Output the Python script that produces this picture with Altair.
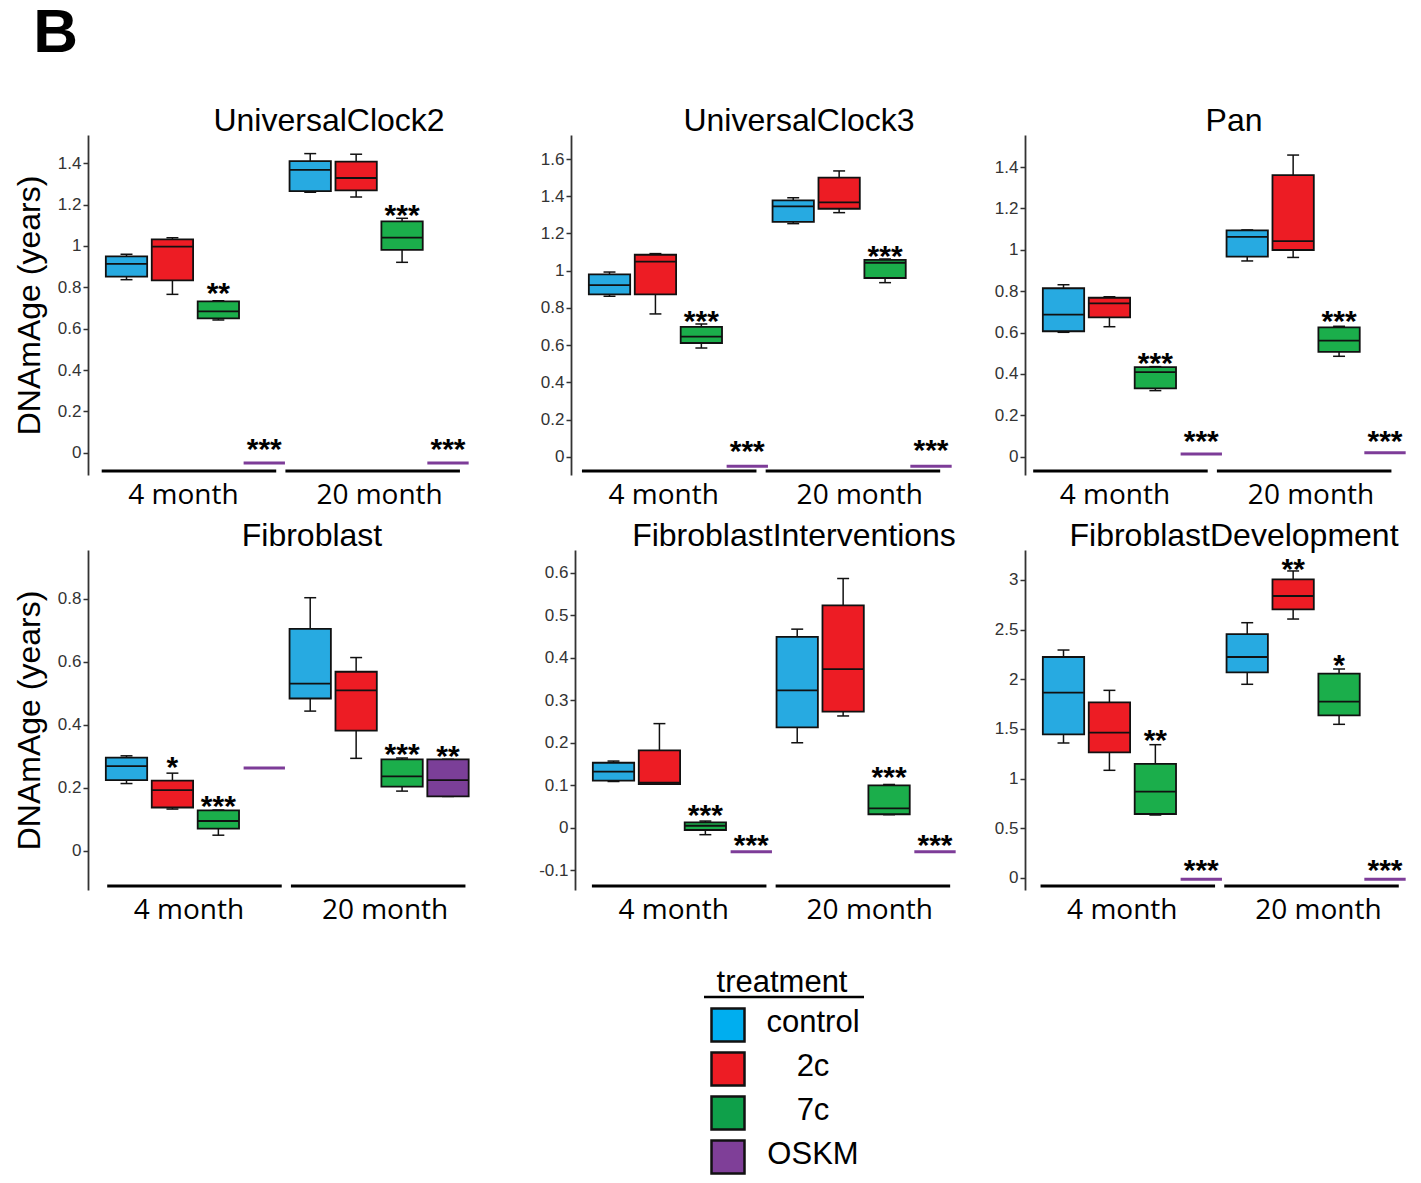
import altair as alt
import pandas as pd

FONT = "Liberation Sans, Arial, Helvetica, sans-serif"
GROUP_FONT = "Open Sans, Liberation Sans, sans-serif"

# ---------------- data ----------------
treatments = ["control", "2c", "7c", "OSKM"]
ages = ["4 month", "20 month"]
box_colors = ["#27AAE1", "#ED1C24", "#1BAE4B", "#7B3F98"]
legend_colors = ["#00AEEF", "#ED1C24", "#0FA04A", "#7F3F98"]
flat_color = "#7D3C98"
y_label = "DNAmAge (years)"
legend_title = "treatment"
figure_label = "B"

panel_names = ["UniversalClock2", "UniversalClock3", "Pan",
               "Fibroblast", "FibroblastInterventions", "FibroblastDevelopment"]

# five-number summaries: age, treatment, min, q1, median, q3, max
uc2_boxes = [
    ("4 month", "control", 0.837, 0.852, 0.913, 0.950, 0.960),
    ("4 month", "2c", 0.766, 0.834, 0.997, 1.032, 1.040),
    ("4 month", "7c", 0.642, 0.650, 0.684, 0.732, 0.735),
    ("20 month", "control", 1.260, 1.265, 1.368, 1.411, 1.447),
    ("20 month", "2c", 1.237, 1.269, 1.329, 1.408, 1.444),
    ("20 month", "7c", 0.921, 0.981, 1.040, 1.119, 1.134),
]
uc2_flat = [("4 month", "OSKM", -0.050), ("20 month", "OSKM", -0.050)]
uc2_stars = [("4 month", "7c", "**", 0.806), ("4 month", "OSKM", "***", 0.053),
             ("20 month", "7c", "***", 1.182), ("20 month", "OSKM", "***", 0.053)]
uc2_ticks = [0, 0.2, 0.4, 0.6, 0.8, 1, 1.2, 1.4]

uc3_boxes = [
    ("4 month", "control", 0.863, 0.873, 0.923, 0.981, 0.993),
    ("4 month", "2c", 0.768, 0.873, 1.049, 1.086, 1.092),
    ("4 month", "7c", 0.585, 0.612, 0.646, 0.698, 0.714),
    ("20 month", "control", 1.253, 1.262, 1.346, 1.378, 1.392),
    ("20 month", "2c", 1.312, 1.333, 1.367, 1.500, 1.536),
    ("20 month", "7c", 0.936, 0.961, 1.043, 1.058, 1.063),
]
uc3_flat = [("4 month", "OSKM", -0.050), ("20 month", "OSKM", -0.050)]
uc3_stars = [("4 month", "7c", "***", 0.770), ("4 month", "OSKM", "***", 0.068),
             ("20 month", "7c", "***", 1.115), ("20 month", "OSKM", "***", 0.077)]
uc3_ticks = [0, 0.2, 0.4, 0.6, 0.8, 1, 1.2, 1.4, 1.6]

pan_boxes = [
    ("4 month", "control", 0.601, 0.606, 0.686, 0.814, 0.831),
    ("4 month", "2c", 0.628, 0.673, 0.741, 0.768, 0.773),
    ("4 month", "7c", 0.319, 0.330, 0.408, 0.433, 0.435),
    ("20 month", "control", 0.946, 0.967, 1.062, 1.094, 1.096),
    ("20 month", "2c", 0.963, 0.999, 1.042, 1.361, 1.458),
    ("20 month", "7c", 0.485, 0.506, 0.561, 0.625, 0.630),
]
pan_flat = [("4 month", "OSKM", 0.013), ("20 month", "OSKM", 0.018)]
pan_stars = [("4 month", "7c", "***", 0.487), ("4 month", "OSKM", "***", 0.108),
             ("20 month", "7c", "***", 0.691), ("20 month", "OSKM", "***", 0.108)]
pan_ticks = [0, 0.2, 0.4, 0.6, 0.8, 1, 1.2, 1.4]

fib_boxes = [
    ("4 month", "control", 0.213, 0.224, 0.268, 0.295, 0.301),
    ("4 month", "2c", 0.132, 0.137, 0.192, 0.222, 0.246),
    ("4 month", "7c", 0.049, 0.070, 0.094, 0.128, 0.129),
    ("20 month", "control", 0.443, 0.483, 0.530, 0.704, 0.803),
    ("20 month", "2c", 0.293, 0.381, 0.509, 0.568, 0.613),
    ("20 month", "7c", 0.189, 0.203, 0.236, 0.290, 0.294),
    ("20 month", "OSKM", 0.172, 0.172, 0.224, 0.290, 0.290),
]
fib_flat = [("4 month", "OSKM", 0.262)]
fib_stars = [("4 month", "2c", "*", 0.288), ("4 month", "7c", "***", 0.163),
             ("20 month", "7c", "***", 0.330), ("20 month", "OSKM", "**", 0.322)]
fib_ticks = [0, 0.2, 0.4, 0.6, 0.8]

fint_boxes = [
    ("4 month", "control", 0.109, 0.111, 0.132, 0.153, 0.157),
    ("4 month", "2c", 0.103, 0.103, 0.106, 0.182, 0.245),
    ("4 month", "7c", -0.016, -0.005, 0.005, 0.013, 0.016),
    ("20 month", "control", 0.200, 0.236, 0.323, 0.449, 0.467),
    ("20 month", "2c", 0.263, 0.273, 0.373, 0.523, 0.586),
    ("20 month", "7c", 0.031, 0.032, 0.046, 0.100, 0.102),
]
fint_flat = [("4 month", "OSKM", -0.056), ("20 month", "OSKM", -0.056)]
fint_stars = [("4 month", "7c", "***", 0.046), ("4 month", "OSKM", "***", -0.024),
              ("20 month", "7c", "***", 0.136), ("20 month", "OSKM", "***", -0.024)]
fint_ticks = [-0.1, 0, 0.1, 0.2, 0.3, 0.4, 0.5, 0.6]

fdev_boxes = [
    ("4 month", "control", 1.359, 1.446, 1.866, 2.225, 2.295),
    ("4 month", "2c", 1.084, 1.265, 1.463, 1.768, 1.889),
    ("4 month", "7c", 0.634, 0.644, 0.869, 1.148, 1.342),
    ("20 month", "control", 1.950, 2.070, 2.225, 2.456, 2.570),
    ("20 month", "2c", 2.607, 2.705, 2.839, 3.007, 3.091),
    ("20 month", "7c", 1.547, 1.638, 1.775, 2.057, 2.104),
]
fdev_flat = [("4 month", "OSKM", -0.013), ("20 month", "OSKM", -0.013)]
fdev_stars = [("4 month", "7c", "**", 1.456), ("4 month", "OSKM", "***", 0.154),
              ("20 month", "2c", "**", 3.185), ("20 month", "7c", "*", 2.211),
              ("20 month", "OSKM", "***", 0.154)]
fdev_ticks = [0, 0.5, 1, 1.5, 2, 2.5, 3]

# ---------------- layout / style ----------------
PANEL_H = 340
panel_layout = {
    # name: (y domain, width, title centre offset, group-line shift)
    "UniversalClock2": ([-0.108, 1.537], 448, 241, -0.04),
    "UniversalClock3": ([-0.097, 1.729], 419, 228, -0.10),
    "Pan": ([-0.089, 1.555], 365, 209, -0.16),
    "Fibroblast": ([-0.125, 0.9545], 446, 224, 0.08),
    "FibroblastInterventions": ([-0.146, 0.653], 415, 219, 0.03),
    "FibroblastDevelopment": ([-0.121, 3.302], 365, 209, 0.0),
}
label_nudge = [-0.12, 0.15]
INK = "#111111"


def slot(age, trt):
    return ages.index(age) * len(treatments) + treatments.index(trt)


def make_panel(name, boxes, flats, stars, ticks, show_ytitle):
    domain, width, title_dx, shift = panel_layout[name]
    bdf = pd.DataFrame(boxes, columns=["age", "treatment", "lo", "q1", "med", "q3", "hi"])
    bdf["slot"] = [slot(a, t) for a, t in zip(bdf.age, bdf.treatment)]
    fdf = pd.DataFrame(flats, columns=["age", "treatment", "value"])
    fdf["slot"] = [slot(a, t) for a, t in zip(fdf.age, fdf.treatment)]
    sdf = pd.DataFrame(stars, columns=["age", "treatment", "label", "ypos"])
    sdf["slot"] = [slot(a, t) for a, t in zip(sdf.age, sdf.treatment)]
    gdf = pd.DataFrame({"age": ages})
    gdf["first"] = [ages.index(a) * len(treatments) for a in ages]
    gdf["x0"] = gdf["first"] - 0.5 + shift
    gdf["x1"] = gdf["first"] + 3.3 + shift
    gdf["xm"] = (gdf["x0"] + gdf["x1"]) / 2 + pd.Series(label_nudge)

    xs = alt.Scale(domain=[0, 7], range=[38.5, 360])
    ys = alt.Scale(domain=domain, nice=False, zero=False)
    yaxis = alt.Axis(values=ticks, grid=False,
                     labelExpr="replace(format(datum.value, '~g'), '\u2212', '-')")
    ytitle = y_label if show_ytitle else None

    def Y(field):
        return alt.Y(field, scale=ys, axis=yaxis, title=ytitle)

    base = alt.Chart(bdf).transform_calculate(
        xl="datum.slot - 0.45", xr="datum.slot + 0.45",
        cl="datum.slot - 0.13", cr="datum.slot + 0.13")

    whisk = base.mark_rule(color=INK, strokeWidth=1.5).encode(
        x=alt.X("slot:Q", scale=xs, axis=None), y=Y("lo:Q"), y2="hi:Q")
    cap_lo = base.mark_rule(color=INK, strokeWidth=1.5).encode(
        x=alt.X("cl:Q", scale=xs, axis=None), x2="cr:Q", y=Y("lo:Q"))
    cap_hi = base.mark_rule(color=INK, strokeWidth=1.5).encode(
        x=alt.X("cl:Q", scale=xs, axis=None), x2="cr:Q", y=Y("hi:Q"))
    rect = base.mark_rect(stroke=INK, strokeWidth=1.8).encode(
        x=alt.X("xl:Q", scale=xs, axis=None), x2="xr:Q",
        y=Y("q1:Q"), y2="q3:Q",
        fill=alt.Fill("treatment:N", scale=alt.Scale(domain=treatments, range=box_colors),
                      legend=None))
    med = base.mark_rule(color=INK, strokeWidth=1.8).encode(
        x=alt.X("xl:Q", scale=xs, axis=None), x2="xr:Q", y=Y("med:Q"))

    flat = alt.Chart(fdf).transform_calculate(
        xl="datum.slot - 0.45", xr="datum.slot + 0.45"
    ).mark_rule(color=flat_color, strokeWidth=3).encode(
        x=alt.X("xl:Q", scale=xs, axis=None), x2="xr:Q", y=Y("value:Q"))

    star = alt.Chart(sdf).mark_text(font=FONT, fontSize=30, fontWeight="bold",
                                    align="center", baseline="alphabetic", dy=17,
                                    color="black").encode(
        x=alt.X("slot:Q", scale=xs, axis=None), y=Y("ypos:Q"), text="label:N")

    gline = alt.Chart(gdf).mark_rule(color="black", strokeWidth=3).encode(
        x=alt.X("x0:Q", scale=xs, axis=None), x2="x1:Q",
        y=alt.value(PANEL_H - 4))
    glabel = alt.Chart(gdf).mark_text(font=GROUP_FONT, fontSize=28, align="center",
                                      baseline="alphabetic", color="black").encode(
        x=alt.X("xm:Q", scale=xs, axis=None),
        y=alt.value(PANEL_H + 29),
        text="age:N")

    return alt.layer(whisk, cap_lo, cap_hi, rect, med, flat, star, gline, glabel).properties(
        width=width, height=PANEL_H,
        title=alt.TitleParams(text=name, anchor="start", align="center", dx=title_dx,
                              frame="group", font=FONT, fontSize=32,
                              fontWeight="normal", color="black", offset=-3))


p1 = make_panel("UniversalClock2", uc2_boxes, uc2_flat, uc2_stars, uc2_ticks, True)
p2 = make_panel("UniversalClock3", uc3_boxes, uc3_flat, uc3_stars, uc3_ticks, False)
p3 = make_panel("Pan", pan_boxes, pan_flat, pan_stars, pan_ticks, False)
p4 = make_panel("Fibroblast", fib_boxes, fib_flat, fib_stars, fib_ticks, True)
p5 = make_panel("FibroblastInterventions", fint_boxes, fint_flat, fint_stars, fint_ticks, False)
p6 = make_panel("FibroblastDevelopment", fdev_boxes, fdev_flat, fdev_stars, fdev_ticks, False)

# ---------------- legend ----------------
LX = -74
LY = 6
leg_df = pd.DataFrame({"treatment": treatments})
leg_y = alt.Y("treatment:N",
              scale=alt.Scale(domain=treatments, range=[84 + LY, 216 + LY], padding=0),
              axis=None)
swatch = alt.Chart(leg_df).mark_square(size=1089, opacity=1, filled=True,
                                       stroke=INK, strokeWidth=2.5).encode(
    x=alt.value(714 + LX), y=leg_y,
    color=alt.Color("treatment:N", scale=alt.Scale(domain=treatments, range=legend_colors),
                    legend=None))
leg_labels = alt.Chart(leg_df).mark_text(font=FONT, fontSize=31, align="center",
                                         baseline="middle", color="black", dy=-2).encode(
    x=alt.value(799 + LX), y=leg_y, text="treatment:N")
title_df = pd.DataFrame({"t": [legend_title]})
leg_title = alt.Chart(title_df).mark_text(font=FONT, fontSize=31, align="center",
                                          baseline="alphabetic", color="black").encode(
    x=alt.value(768 + LX), y=alt.value(51 + LY), text="t:N")
leg_line = alt.Chart(title_df).mark_rule(color="black", strokeWidth=2.5).encode(
    x=alt.value(690 + LX), x2=alt.value(850 + LX), y=alt.value(56 + LY))
legend = alt.layer(swatch, leg_labels, leg_title, leg_line).properties(width=900, height=230)

row1 = alt.hconcat(p1, p2, p3, spacing=4)
row2 = alt.hconcat(p4, p5, p6, spacing=4)

chart = alt.vconcat(row1, row2, legend, spacing=10).properties(
    title=alt.TitleParams(text=figure_label, anchor="start", dx=20, offset=40,
                          font=FONT, fontSize=62, fontWeight="bold", color="black"),
    padding={"left": 5, "top": -6, "right": 0, "bottom": 0},
).configure_view(strokeWidth=0).configure_axis(
    labelFont=FONT, labelFontSize=17, labelColor="#333333", labelPadding=2,
    tickColor="#333333", tickSize=5, tickWidth=1.5,
    domainColor="#333333", domainWidth=1.8,
    titleFont=FONT, titleFontSize=32, titleFontWeight="normal", titleColor="black",
    titlePadding=11,
)

chart.save("out.html", embed_options={"renderer": "svg", "actions": False})
